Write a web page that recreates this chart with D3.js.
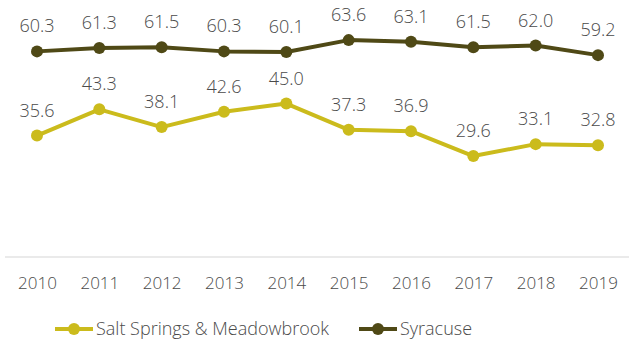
<!DOCTYPE html>
<html>
<head>
<meta charset="utf-8">
<script src="https://cdn.jsdelivr.net/npm/d3@7"></script>
<style>
  html, body { margin: 0; padding: 0; background: #fff; }
  svg { display: block; }
  text { font-family: "Open Sans", Lato, sans-serif; font-weight: 300; }
</style>
</head>
<body>
<svg id="chart" width="634" height="343"></svg>
<script>
// Years on the x axis
const years = ["2010","2011","2012","2013","2014","2015","2016","2017","2018","2019"];
// Series values
const saltSprings = [35.6, 43.3, 38.1, 42.6, 45.0, 37.3, 36.9, 29.6, 33.1, 32.8];
const syracuse    = [60.3, 61.3, 61.5, 60.3, 60.1, 63.6, 63.1, 61.5, 62.0, 59.2];
const seriesNames = ["Salt Springs & Meadowbrook", "Syracuse"];
const seriesColors = ["#cbbb1c", "#4f4916"];

const series = [
  { name: seriesNames[0], values: saltSprings, color: seriesColors[0] },
  { name: seriesNames[1], values: syracuse, color: seriesColors[1] }
];

const svg = d3.select("#chart");

const x = d3.scalePoint().domain(years).range([37, 598]);
const y = d3.scaleLinear().domain([0, 70]).range([257, 18.3]);

// Baseline
svg.append("line")
  .attr("x1", 5).attr("x2", 629)
  .attr("y1", y(0)).attr("y2", y(0))
  .attr("stroke", "#e3e3e3").attr("stroke-width", 1.5);

// X axis labels
const xAxis = d3.axisBottom(x).tickSize(0).tickPadding(0);
const gx = svg.append("g").attr("transform", `translate(0, ${y(0) + 20})`).call(xAxis);
gx.select(".domain").remove();
gx.selectAll("text")
  .attr("font-family", "'Open Sans', Lato, sans-serif")
  .attr("font-weight", 300)
  .attr("font-size", 17)
  .attr("fill", "#4a4a4a")
  .attr("dy", "0.71em");

const line = d3.line()
  .x((d, i) => x(years[i]))
  .y(d => y(d));

series.forEach(s => {
  const g = svg.append("g");
  g.append("path")
    .datum(s.values)
    .attr("d", line)
    .attr("fill", "none")
    .attr("stroke", s.color)
    .attr("stroke-width", 4)
    .attr("stroke-linejoin", "round");
  g.selectAll("circle")
    .data(s.values)
    .join("circle")
    .attr("cx", (d, i) => x(years[i]))
    .attr("cy", d => y(d))
    .attr("r", 6)
    .attr("fill", s.color);
  g.selectAll("text.value")
    .data(s.values)
    .join("text")
    .attr("class", "value")
    .attr("x", (d, i) => x(years[i]))
    .attr("y", d => y(d) - 19)
    .attr("text-anchor", "middle")
    .attr("font-size", 18)
    .attr("fill", "#4a4a4a")
    .text(d => d.toFixed(1));
});

// Legend
const legendItems = [
  { x0: 55, name: seriesNames[0], color: seriesColors[0] },
  { x0: 359, name: seriesNames[1], color: seriesColors[1] }
];
const ly = 329;
legendItems.forEach(item => {
  const g = svg.append("g");
  g.append("line")
    .attr("x1", item.x0).attr("x2", item.x0 + 38)
    .attr("y1", ly).attr("y2", ly)
    .attr("stroke", item.color).attr("stroke-width", 4);
  g.append("circle")
    .attr("cx", item.x0 + 19).attr("cy", ly).attr("r", 6)
    .attr("fill", item.color);
  g.append("text")
    .attr("x", item.x0 + 41).attr("y", ly)
    .attr("dy", "0.35em")
    .attr("font-size", 18)
    .attr("fill", "#4a4a4a")
    .text(item.name);
});
</script>
</body>
</html>
